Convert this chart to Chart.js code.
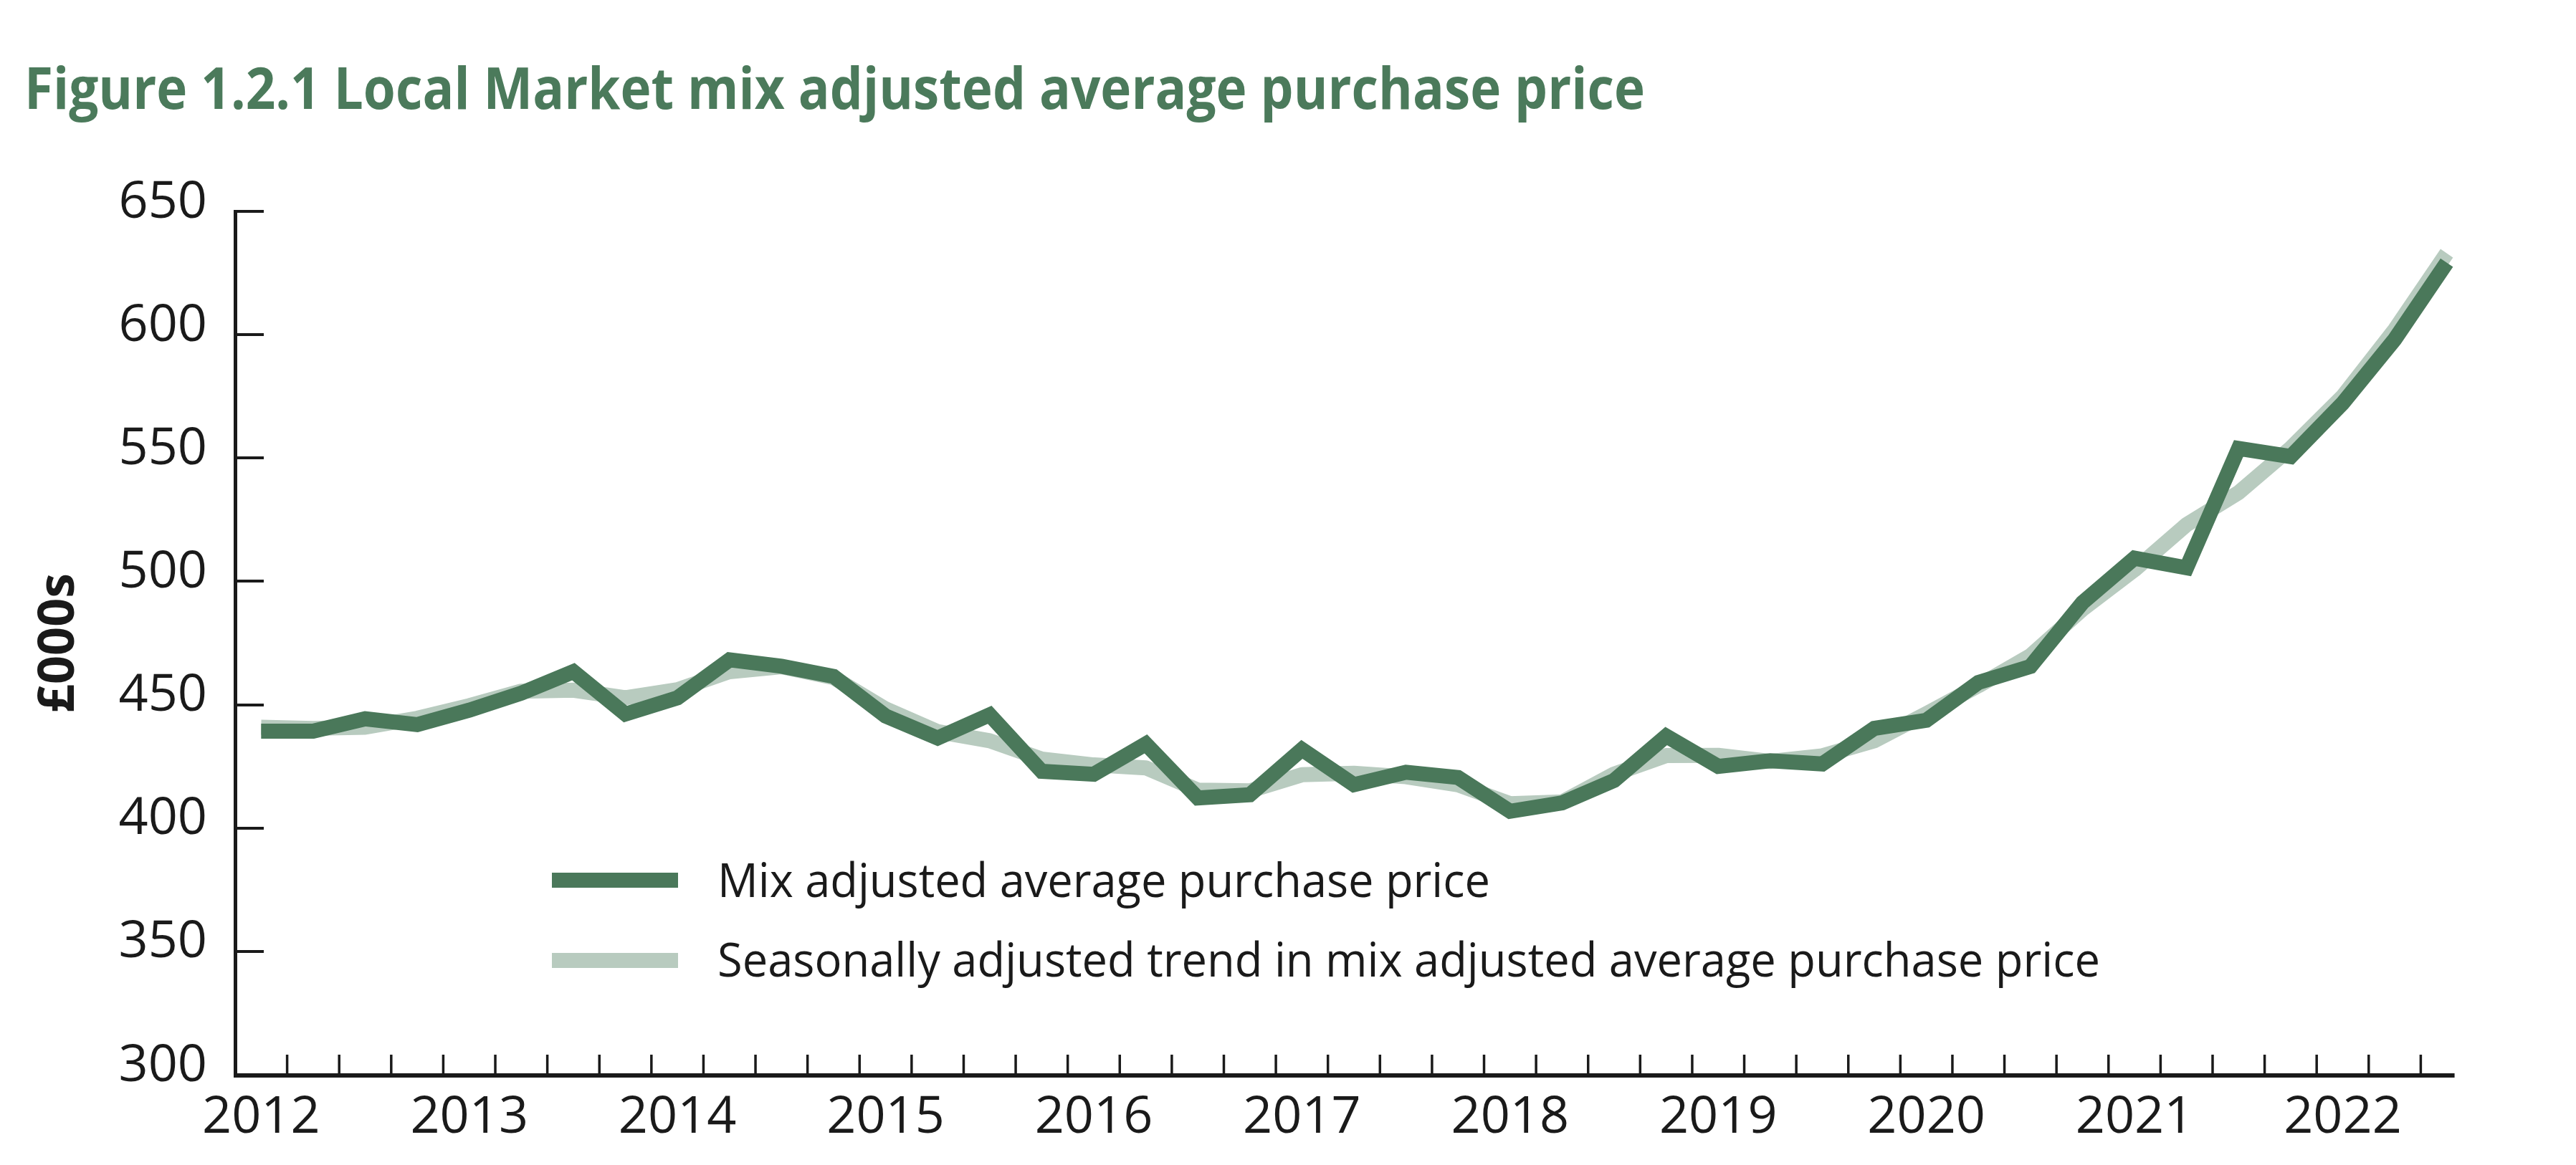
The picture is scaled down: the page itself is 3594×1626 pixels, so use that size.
<!DOCTYPE html>
<html>
<head>
<meta charset="utf-8">
<script src="https://cdn.jsdelivr.net/npm/chart.js@4.4.1/dist/chart.umd.min.js"></script>
<style>
  html, body { margin: 0; padding: 0; background: #fff; }
  #wrap { position: relative; width: 3594px; height: 1626px; overflow: hidden; }
  #chart { position: absolute; left: 0; top: 0; }
  .txt { position: absolute; white-space: nowrap; line-height: 1; font-family: 'Open Sans', sans-serif; transform-origin: 0 0; display: inline-block; }
  #title { left: 34px; top: 81px; font-size: 80px; font-weight: 700; color: #4b7a5b; }
  .leg-text { font-size: 66px; color: #1a1a1a; left: 1001px; }
  .swatch { position: absolute; left: 770px; width: 176px; height: 21px; }
</style>
</head>
<body>
<div id="wrap">
  <canvas id="chart" width="3594" height="1626"></canvas>
  <div id="title" class="txt">Figure 1.2.1 Local Market mix adjusted average purchase price</div>
  <div class="swatch" style="top:1218px; background:#4a785a;"></div>
  <div id="leg1" class="txt leg-text" style="top:1193px;">Mix adjusted average purchase price</div>
  <div class="swatch" style="top:1330px; background:#b8cbbf;"></div>
  <div id="leg2" class="txt leg-text" style="top:1304px;">Seasonally adjusted trend in mix adjusted average purchase price</div>
</div>
<script>
// quarterly categories, 2012 Q1 .. 2022 Q3
const quarters = [
  '2012 Q1', '2012 Q2', '2012 Q3', '2012 Q4',
  '2013 Q1', '2013 Q2', '2013 Q3', '2013 Q4',
  '2014 Q1', '2014 Q2', '2014 Q3', '2014 Q4',
  '2015 Q1', '2015 Q2', '2015 Q3', '2015 Q4',
  '2016 Q1', '2016 Q2', '2016 Q3', '2016 Q4',
  '2017 Q1', '2017 Q2', '2017 Q3', '2017 Q4',
  '2018 Q1', '2018 Q2', '2018 Q3', '2018 Q4',
  '2019 Q1', '2019 Q2', '2019 Q3', '2019 Q4',
  '2020 Q1', '2020 Q2', '2020 Q3', '2020 Q4',
  '2021 Q1', '2021 Q2', '2021 Q3', '2021 Q4',
  '2022 Q1', '2022 Q2', '2022 Q3'
];

// year labels shown under the first quarter of each year
const yearLabels = ['2012', '2013', '2014', '2015', '2016', '2017', '2018', '2019', '2020', '2021', '2022'];

// £000s
const mixPrice = [
  439.3, 439.3, 444.3, 441.9,
  447.8, 454.7, 463.4, 446.2,
  452.8, 468.2, 465.6, 461.5,
  445.4, 436.5, 445.9, 423.0,
  421.8, 434.1, 412.2, 413.5,
  431.9, 417.6, 422.6, 420.5,
  406.8, 410.2, 419.3, 437.3,
  425.0, 427.3, 426.0, 440.4,
  443.7, 459.0, 465.5, 491.4,
  509.4, 505.5, 553.9, 550.6,
  572.2, 598.1, 629.2
];

const trendPrice = [
  440.9, 440.4, 440.9, 444.5,
  449.6, 455.5, 455.9, 452.8,
  456.1, 463.4, 465.4, 461.0,
  448.3, 439.1, 435.4, 428.0,
  425.6, 424.4, 415.4, 415.1,
  421.6, 422.2, 420.8, 417.5,
  409.9, 410.6, 421.9, 429.4,
  429.5, 427.0, 429.3, 435.4,
  446.4, 457.7, 469.9, 488.7,
  504.7, 523.0, 536.0, 554.0,
  575.0, 602.0, 633.0
];

const yTicks = [300, 350, 400, 450, 500, 550, 600, 650];

const darkGreen = '#4a785a';
const lightGreen = '#b8cbbf';
const axisColor = '#1a1a1a';

// x axis line (stops just past the last point) and tick marks drawn inside the plot
const innerTicks = {
    id: 'innerTicks',
    beforeDatasetsDraw(chart) {
        const { ctx, chartArea, scales: { x, y } } = chart;
        ctx.save();
        ctx.strokeStyle = axisColor;

        const last = quarters.length - 1;
        const step = x.getPixelForValue(1) - x.getPixelForValue(0);
        ctx.lineWidth = 6;
        ctx.beginPath();
        ctx.moveTo(chartArea.left - 2, chartArea.bottom + 1);
        ctx.lineTo(x.getPixelForValue(last) + step * 0.15, chartArea.bottom + 1);
        ctx.stroke();

        ctx.lineWidth = 4;
        yTicks.forEach(v => {
            if (v === 300) return;
            const py = Math.round(y.getPixelForValue(v));
            ctx.beginPath();
            ctx.moveTo(chartArea.left, py);
            ctx.lineTo(chartArea.left + 40, py);
            ctx.stroke();
        });
        ctx.lineWidth = 3.5;
        for (let i = 1; i < quarters.length; i++) {
            const px = (x.getPixelForValue(i - 1) + x.getPixelForValue(i)) / 2;
            ctx.beginPath();
            ctx.moveTo(px, chartArea.bottom);
            ctx.lineTo(px, chartArea.bottom - 28);
            ctx.stroke();
        }
        ctx.restore();
    }
};

new Chart(document.getElementById('chart'), {
    type: 'line',
    data: {
        labels: quarters,
        datasets: [
            {
                label: 'Mix adjusted average purchase price',
                data: mixPrice,
                borderColor: darkGreen,
                borderWidth: 21,
                borderJoinStyle: 'miter',
                borderCapStyle: 'butt',
                pointRadius: 0,
                tension: 0,
                fill: false
            },
            {
                label: 'Seasonally adjusted trend in mix adjusted average purchase price',
                data: trendPrice,
                borderColor: lightGreen,
                borderWidth: 21,
                borderJoinStyle: 'round',
                borderCapStyle: 'butt',
                pointRadius: 0,
                tension: 0,
                fill: false
            }
        ]
    },
    options: {
        responsive: false,
        devicePixelRatio: 1,
        animation: false,
        layout: { padding: { top: 295, right: 144, left: 0, bottom: 0 } },
        plugins: {
            legend: { display: false },
            tooltip: { enabled: false }
        },
        scales: {
            x: {
                type: 'category',
                offset: true,
                grid: { display: false, drawTicks: false },
                border: { display: false },
                ticks: {
                    autoSkip: false,
                    maxRotation: 0,
                    padding: 17,
                    color: axisColor,
                    font: { family: 'Open Sans', size: 72 },
                    callback: (val, i) => (i % 4 === 0 ? yearLabels[i / 4] : '')
                },
                afterFit: s => { s.height = 126; }
            },
            y: {
                min: 300,
                max: 650,
                grid: { display: false, drawTicks: false },
                border: { display: true, color: axisColor, width: 5 },
                afterBuildTicks: s => { s.ticks = yTicks.map(v => ({ value: v })); },
                ticks: {
                    padding: 39,
                    labelOffset: -12,
                    color: axisColor,
                    font: { family: 'Open Sans', size: 72 }
                },
                title: {
                    display: true,
                    text: '£000s',
                    color: axisColor,
                    padding: { top: 41, bottom: 0 },
                    font: { family: 'Open Sans', size: 70, weight: 'bold' }
                },
                afterFit: s => { s.width = 328; }
            }
        }
    },
    plugins: [innerTicks]
});

// squeeze the texts to the widths of the original narrow face
function fitWidth(id, target) {
    const el = document.getElementById(id);
    const w = el.getBoundingClientRect().width;
    if (w > 0) el.style.transform = 'scaleX(' + (target / w) + ')';
}
fitWidth('title', 2261);
fitWidth('leg1', 1078);
fitWidth('leg2', 1929);
</script>
</body>
</html>
